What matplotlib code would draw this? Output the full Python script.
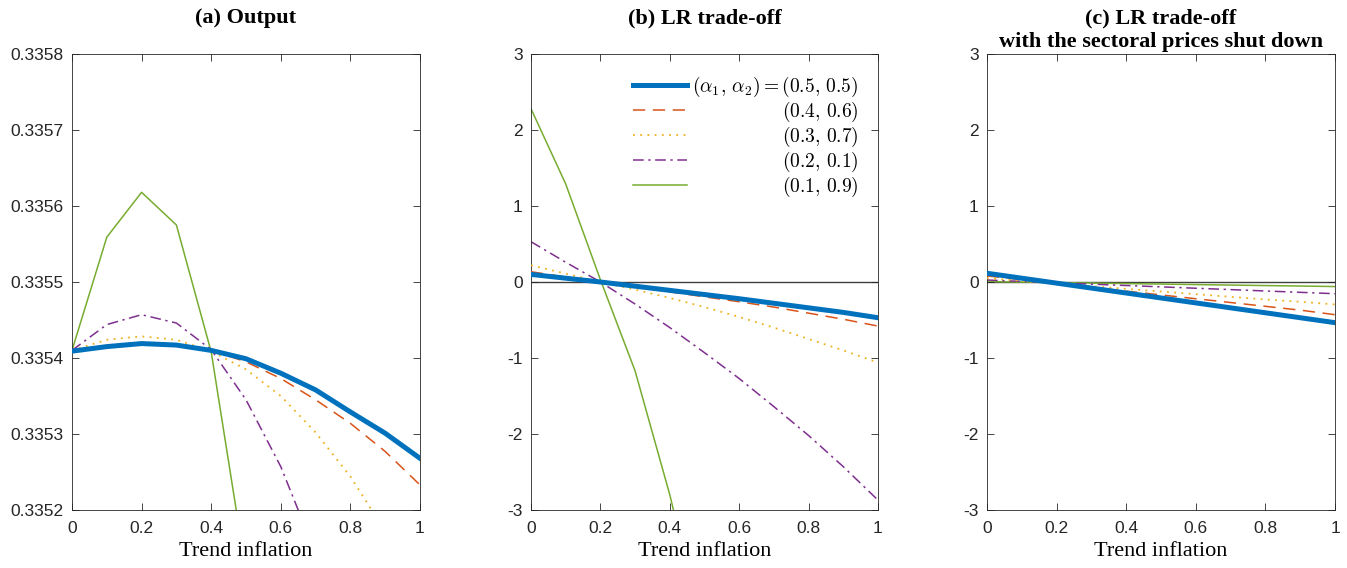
import numpy as np
import matplotlib
matplotlib.use('Agg')
import matplotlib.pyplot as plt
from matplotlib.ticker import FormatStrFormatter

# ---------------- data ----------------
trend_inflation = [0.0, 0.1, 0.2, 0.3, 0.4, 0.5, 0.6, 0.7, 0.8, 0.9, 1.0]

series_labels = [r'$(\alpha_1,\,\alpha_2)=(0.5,\,0.5)$', r'$(0.4,\,0.6)$',
                 r'$(0.3,\,0.7)$', r'$(0.2,\,0.1)$', r'$(0.1,\,0.9)$']

# (a) Output
output_55 = [0.335409, 0.335415, 0.335419, 0.335417, 0.335410, 0.335399,
             0.335380, 0.335358, 0.335329, 0.335301, 0.335268]
output_46 = [0.335410, 0.335416, 0.335420, 0.335418, 0.335410, 0.335395,
             0.335373, 0.335345, 0.335314, 0.335277, 0.335233]
output_37 = [0.335410, 0.335424, 0.3354285, 0.335424, 0.335409, 0.335385,
             0.335350, 0.335302, 0.335244, 0.335172, 0.335090]
output_21 = [0.335410, 0.335444, 0.335457, 0.335446, 0.335411, 0.335345,
             0.335257, 0.335143, 0.335003, 0.334837, 0.334645]
output_19 = [0.335410, 0.335559, 0.335618, 0.335575, 0.335408, 0.335119,
             0.334780, 0.334380, 0.333920, 0.333400, 0.332820]

# (b) LR trade-off
lr_55 = [0.10, 0.05, 0.00, -0.055, -0.11, -0.165, -0.22, -0.28, -0.34, -0.40, -0.47]
lr_46 = [0.135, 0.065, 0.00, -0.065, -0.13, -0.195, -0.26, -0.33, -0.41, -0.49, -0.58]
lr_37 = [0.22, 0.11, 0.00, -0.10, -0.21, -0.33, -0.46, -0.60, -0.75, -0.90, -1.06]
lr_21 = [0.53, 0.26, 0.00, -0.29, -0.60, -0.93, -1.27, -1.64, -2.02, -2.43, -2.87]
lr_19 = [2.28, 1.29, 0.03, -1.17, -2.80, -4.70, -6.80, -9.10, -11.6, -14.3, -17.2]

# (c) LR trade-off with the sectoral prices shut down
lrs_55 = [0.115, 0.05, -0.015, -0.08, -0.145, -0.21, -0.275, -0.34, -0.405, -0.47, -0.535]
lrs_46 = [0.08, 0.03, -0.02, -0.07, -0.12, -0.17, -0.22, -0.27, -0.32, -0.37, -0.43]
lrs_37 = [0.05, 0.015, -0.02, -0.055, -0.09, -0.125, -0.16, -0.195, -0.23, -0.26, -0.295]
lrs_21 = [0.026, 0.008, -0.01, -0.028, -0.046, -0.064, -0.082, -0.10, -0.118, -0.136, -0.154]
lrs_19 = [0.005, -0.001, -0.008, -0.014, -0.021, -0.027, -0.034, -0.040, -0.047, -0.053, -0.060]

titles = [['(a) Output'], ['(b) LR trade-off'],
          ['(c) LR trade-off', 'with the sectoral prices shut down']]
xlabel_text = 'Trend inflation'

# ---------------- style ----------------
plt.rcParams['font.family'] = ['Liberation Sans', 'DejaVu Sans']
plt.rcParams['mathtext.fontset'] = 'cm'
plt.rcParams['axes.unicode_minus'] = False

colors = ['#0072BD', '#D95319', '#EDB120', '#7E2F8E', '#77AC30']
styles = [dict(lw=3.6, ls='-'),
          dict(lw=1.1, ls=(0, (8, 5))),
          dict(lw=1.3, ls=(0, (1, 3))),
          dict(lw=1.1, ls=(0, (7, 3, 1.5, 3))),
          dict(lw=1.1, ls='-')]

fig = plt.figure(figsize=(13.47, 5.68), dpi=100)
W, H = 1347, 568
lefts = [72, 531, 987]
rights = [420, 878, 1335]
top, bottom = 54, 510
axes = []
for l, r in zip(lefts, rights):
    ax = fig.add_axes([l / W, 1 - bottom / H, (r - l) / W, (bottom - top) / H])
    axes.append(ax)

panel_data = [
    [output_55, output_46, output_37, output_21, output_19],
    [lr_55, lr_46, lr_37, lr_21, lr_19],
    [lrs_55, lrs_46, lrs_37, lrs_21, lrs_19],
]

spine_col = '#262626'
title_baselines = [23.5, 47.5]
for i, ax in enumerate(axes):
    if i > 0:
        ax.plot([0, 1], [0, 0], color='#404040', lw=1.0, zorder=1)
    for j, ys in enumerate(panel_data[i]):
        ax.plot(trend_inflation, ys, color=colors[j], label=series_labels[j],
                zorder=5 - j if j > 0 else 6, **styles[j])
    ax.set_xlim(0, 1)
    ax.set_xticks([0, 0.2, 0.4, 0.6, 0.8, 1])
    ax.set_xticklabels(['0', '0.2', '0.4', '0.6', '0.8', '1'])
    if i == 0:
        ax.set_ylim(0.3352, 0.3358)
        ax.set_yticks(np.arange(0.3352, 0.33581, 0.0001))
        ax.yaxis.set_major_formatter(FormatStrFormatter('%.4f'))
    else:
        ax.set_ylim(-3, 3)
        ax.set_yticks([-3, -2, -1, 0, 1, 2, 3])
    ax.tick_params(direction='in', top=True, right=True, length=5, width=0.6,
                   color=spine_col, labelsize=12.5, labelcolor='#262626')
    ax.tick_params(axis='x', pad=8)
    ax.tick_params(axis='y', pad=6)
    for s in ax.spines.values():
        s.set_color(spine_col)
        s.set_linewidth(0.6)
    xc = (lefts[i] + rights[i]) / 2 / W
    for k, line in enumerate(titles[i]):
        fig.text(xc, 1 - title_baselines[k] / H, line, ha='center', va='baseline',
                 fontfamily='Liberation Serif', fontweight='bold', fontsize=16)
    ax.set_xlabel(xlabel_text, fontfamily='Liberation Serif', fontsize=16,
                  labelpad=4)

leg = axes[1].legend(loc='upper right', bbox_to_anchor=(0.944, 0.955),
                     frameon=False, fontsize=14, handlelength=2.75,
                     handletextpad=0.3, labelspacing=0.05, borderpad=0.0,
                     borderaxespad=0)

# right-align legend labels
fig.canvas.draw()
renderer = fig.canvas.get_renderer()
texts = leg.get_texts()
widths = [t.get_window_extent(renderer).width for t in texts]
maxw = max(widths)
dpicor = renderer.points_to_pixels(1.)
rows = []
for col in leg._legend_handle_box.get_children():
    rows.extend(col.get_children())
for row, w in zip(rows, widths):
    row.sep = row.sep + (maxw - w) / dpicor

fig.savefig('out.png', dpi=100)
